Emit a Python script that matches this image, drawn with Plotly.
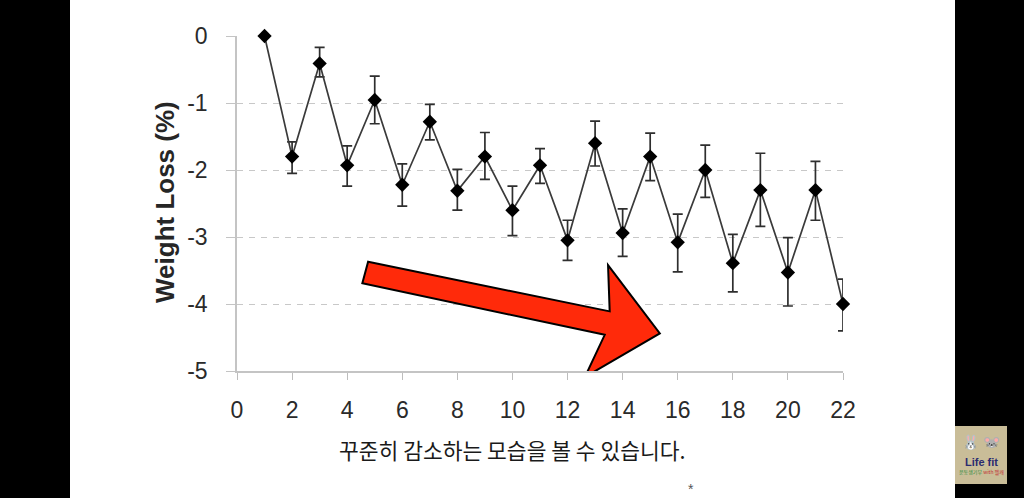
import plotly.graph_objects as go

# ---- data ----
weeks = list(range(1, 23))
weight_loss = [0.00, -1.80, -0.41, -1.93, -0.955, -2.22, -1.28, -2.31, -1.80, -2.60, -1.93,
               -3.05, -1.60, -2.94, -1.80, -3.08, -2.00, -3.39, -2.30, -3.53, -2.30, -4.00]
err_plus = [0.00, 0.22, 0.24, 0.29, 0.355, 0.31, 0.26, 0.32, 0.36, 0.36, 0.25,
            0.30, 0.33, 0.36, 0.35, 0.42, 0.37, 0.43, 0.55, 0.52, 0.43, 0.37]
err_minus = [0.00, 0.25, 0.20, 0.31, 0.355, 0.32, 0.27, 0.29, 0.34, 0.38, 0.27,
             0.30, 0.34, 0.35, 0.36, 0.44, 0.41, 0.43, 0.54, 0.50, 0.45, 0.40]
x_ticks = list(range(0, 23, 2))
y_ticks = [0, -1, -2, -3, -4, -5]
y_tick_labels = ["0", "-1", "-2", "-3", "-4", "-5"]
y_title = "Weight Loss (%)"
caption = "꾸준히 감소하는 모습을 볼 수 있습니다."

# ---- layout geometry (pixels) ----
W, H = 1024, 498
L, R, T, B = 237, 843, 36, 371
PW, PH = R - L, B - T


def px(xp):
    return (xp - L) / PW


def py(yp):
    return (B - yp) / PH


fig = go.Figure()
fig.add_trace(go.Scatter(
    x=weeks, y=weight_loss, mode="lines+markers",
    line=dict(color="#3a3a3a", width=1.7),
    marker=dict(symbol="diamond", size=11, color="#000000"),
    error_y=dict(type="data", symmetric=False, array=err_plus, arrayminus=err_minus,
                 color="#2e2e2e", thickness=1.7, width=5),
    cliponaxis=False, showlegend=False,
))

font_ax = dict(family="Liberation Sans, Arial, sans-serif", size=23, color="#2a2a2a")

fig.update_layout(
    width=W, height=H,
    margin=dict(l=L, r=W - R, t=T, b=H - B, pad=0),
    paper_bgcolor="#000000", plot_bgcolor="#ffffff",
    xaxis=dict(range=[0, 22], tickvals=x_ticks, ticks="outside", ticklen=7,
               tickcolor="#bdbdbd", tickwidth=1.3, showgrid=False, zeroline=False,
               showline=True, linecolor="#c4c4c4", linewidth=1.5,
               tickfont=font_ax, ticklabelstandoff=11),
    yaxis=dict(range=[-5, 0], tickvals=y_ticks, ticktext=y_tick_labels, ticks="outside",
               ticklen=9, tickcolor="#c4c4c4", tickwidth=1.3, showgrid=True,
               gridcolor="#c8c8c8", griddash="6px,6px", gridwidth=1.3, zeroline=False,
               showline=True, linecolor="#c4c4c4", linewidth=1.5,
               tickfont=font_ax, ticklabelstandoff=14),
)

# white page between black side bars
fig.add_shape(type="rect", xref="paper", yref="paper", layer="below",
              x0=px(70), x1=px(955), y0=py(0), y1=py(H),
              fillcolor="#ffffff", line=dict(width=0))

# red arrow (annotation graphic, in data coordinates)
arrow_pts = [(4.76, -3.37), (13.53, -4.11), (13.47, -3.42), (15.35, -4.44),
             (12.63, -5.09), (13.35, -4.46), (4.55, -3.69)]
path = "M " + " L ".join(f"{a},{b}" for a, b in arrow_pts) + " Z"
fig.add_shape(type="path", xref="x", yref="y", path=path, layer="above",
              fillcolor="#ff2a0a", line=dict(color="#000000", width=2))

# y-axis title
fig.add_annotation(xref="paper", yref="paper", x=px(165), y=py(202), text=f"<b>{y_title}</b>",
                   textangle=-90, showarrow=False, xanchor="center", yanchor="middle",
                   font=dict(family="Liberation Sans, Arial, sans-serif", size=26, color="#262626"))

# caption
fig.add_annotation(xref="paper", yref="paper", x=px(512), y=py(449), text=caption,
                   showarrow=False, xanchor="center", yanchor="middle",
                   font=dict(family="Noto Sans CJK KR", size=21.5, color="#1a1a1a"))

fig.add_annotation(xref="paper", yref="paper", x=px(691), y=py(489), text="*",
                   showarrow=False, xanchor="center", yanchor="middle",
                   font=dict(family="Liberation Sans", size=14, color="#555555"))

# logo box
fig.add_shape(type="rect", xref="paper", yref="paper", layer="above",
              x0=px(955), x1=px(1007), y0=py(484), y1=py(426),
              fillcolor="#c9bd98", line=dict(width=0))
fig.add_annotation(xref="paper", yref="paper", x=px(981), y=py(441), text="🐰 🐭",
                   showarrow=False, xanchor="center", yanchor="middle",
                   font=dict(family="Noto Sans", size=14, color="#222244"))
fig.add_annotation(xref="paper", yref="paper", x=px(981), y=py(462), text="<b>Life fit</b>",
                   showarrow=False, xanchor="center", yanchor="middle",
                   font=dict(family="Liberation Sans", size=11, color="#2b2b70"))
fig.add_annotation(xref="paper", yref="paper", x=px(981), y=py(472),
                   text="<span style='color:#2a8a3a'>운동생기부</span> <span style='color:#c03030'>with 펠캐</span>",
                   showarrow=False, xanchor="center", yanchor="middle",
                   font=dict(family="Noto Sans CJK KR", size=5, color="#2a8a3a"))

fig.write_html("out.html", config={"displayModeBar": False},
               post_script="document.body.style.margin='0px';document.body.style.overflow='hidden';")
